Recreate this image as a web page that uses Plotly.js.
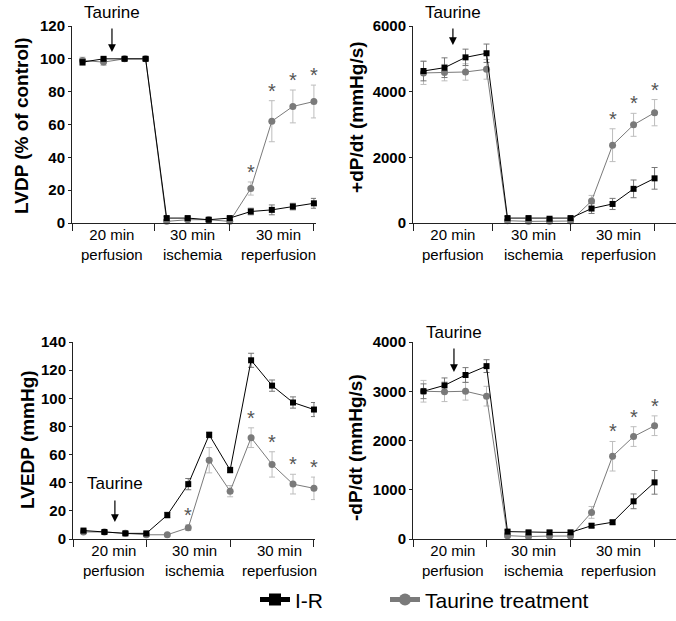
<!DOCTYPE html>
<html>
<head>
<meta charset="utf-8">
<script src="https://cdn.plot.ly/plotly-3.0.1.min.js"></script>
<style>html,body{margin:0;padding:0;background:#fff;}#chart{width:676px;height:621px;}</style>
</head>
<body>
<div id="chart"></div>
<script>
// ---- data ----
const timepoints = [0,1,2,3,4,5,6,7,8,9,10,11];
const phaseLabels = ["20 min<br>perfusion","30 min<br>ischemia","30 min<br>reperfusion"];
const seriesNames = ["I-R","Taurine treatment"];

const lvdpIR     = [98,100,100,100,3,3,2,3,7,8,10,12];
const lvdpIRErr  = [2,1,1,1,1,1,1,1,2,3,2,3];
const lvdpTau    = [99,98,100,100,1,2,2,1,21,62,71,74];
const lvdpTauErr = [2,2,1,1,1,1,1,1,4,12.5,10,10];
const lvdpStars  = [8,9,10,11];

const posIR     = [4630,4730,5045,5170,150,150,130,150,440,580,1040,1360];
const posIRErr  = [300,300,250,280,50,40,40,40,150,170,270,330];
const posTau    = [4570,4580,4600,4680,70,50,50,60,670,2370,2990,3360];
const posTauErr = [350,250,250,300,30,30,30,30,170,500,350,400];
const posStars  = [9,10,11];

const lvedpIR     = [6,5,4,4,17,39,74,49,127,109,97,92];
const lvedpIRErr  = [1,1,1,1,2,4,2,2,5,4,4,5];
const lvedpTau    = [5,5,4,3,3,8,56,34,72,53,39,36];
const lvedpTauErr = [1,1,1,1,1,2,9,4,7,9,7,8];
const lvedpStars  = [5,8,9,10,11];

const negIR     = [3000,3120,3330,3510,150,135,135,135,270,340,765,1150];
const negIRErr  = [150,150,150,130,30,30,30,30,40,40,150,240];
const negTau    = [3000,2990,3000,2900,68,50,60,60,540,1680,2080,2300];
const negTauErr = [220,200,180,200,30,30,30,30,120,300,200,200];
const negStars  = [9,10,11];

// ---- styling ----
const FONT = "Liberation Sans, Arial, sans-serif";
const GRAY = "#7a7a7a";

const panels = [
  {xa:"x", ya:"y", ir:lvdpIR, irE:lvdpIRErr, tau:lvdpTau, tauE:lvdpTauErr, stars:lvdpStars,
   title:"LVDP (% of control)", tx:0.031, ty:0.7987,
   xdom:[72/676,316/676], ydom:[1-223/621,1-26/621], xr:[-0.5,11.1], yr:[0,120], dt:20,
   bounds:[-0.5,3.4,7,11], labX:[1.4,5.25,9.3],
   taur:{x:1.4, tdom:1.066, ay:104.1, alen:25}},
  {xa:"x2", ya:"y2", ir:posIR, irE:posIRErr, tau:posTau, tauE:posTauErr, stars:posStars,
   title:"+dP/dt (mmHg/s)", tx:0.528, ty:0.8116,
   xdom:[413/676,1], ydom:[1-223/621,1-26/621], xr:[-0.5,12.02], yr:[0,6000], dt:2000,
   bounds:[-0.5,3.3,7,11], labX:[1.4,5.25,9.3],
   taur:{x:1.4, tdom:1.071, ay:5421, alen:18}},
  {xa:"x3", ya:"y3", ir:lvedpIR, irE:lvedpIRErr, tau:lvedpTau, tauE:lvedpTauErr, stars:lvedpStars,
   title:"LVEDP (mmHg)", tx:0.0414, ty:0.2931,
   xdom:[73/676,315/676], ydom:[1-539/621,1-342/621], xr:[-0.5,11.05], yr:[0,140], dt:20,
   bounds:[-0.5,3,7,11], labX:[1.45,5.3,9.35],
   taur:{x:1.5, tdom:0.284, ay:12.1, alen:23}},
  {xa:"x4", ya:"y4", ir:negIR, irE:negIRErr, tau:negTau, tauE:negTauErr, stars:negStars,
   title:"-dP/dt (mmHg/s)", tx:0.5266, ty:0.2802,
   xdom:[413/676,1], ydom:[1-539/621,1-342/621], xr:[-0.5,12.02], yr:[0,4000], dt:1000,
   bounds:[-0.5,3,7,11], labX:[1.4,5.25,9.3],
   taur:{x:1.45, tdom:1.0457, ay:3391, alen:25}}
];

const data = [];
const annotations = [];
const legendStyle = {orientation:"h", xanchor:"left", y:0.034, yanchor:"middle",
  font:{size:21, family:FONT, color:"#000"}, bgcolor:"rgba(0,0,0,0)", itemsizing:"constant"};
const layout = {
  width:676, height:621,
  margin:{l:0,r:0,t:0,b:0},
  paper_bgcolor:"#fff", plot_bgcolor:"rgba(0,0,0,0)",
  font:{family:FONT, color:"#000"},
  showlegend:true,
  legend:Object.assign({x:255/676}, legendStyle),
  legend2:Object.assign({x:385/676}, legendStyle),
  annotations:annotations
};

panels.forEach((p,i)=>{
  const sfx = i===0 ? "" : String(i+1);
  data.push({
    x:timepoints, y:p.tau, xaxis:p.xa, yaxis:p.ya, type:"scatter", mode:"lines+markers",
    name:seriesNames[1], showlegend:i===0, legend:"legend2",
    line:{color:GRAY, width:1}, marker:{symbol:"circle", size:7, color:GRAY},
    error_y:{type:"data", array:p.tauE, visible:true, color:"#bdbdbd", thickness:1, width:3},
    cliponaxis:false
  });
  data.push({
    x:timepoints, y:p.ir, xaxis:p.xa, yaxis:p.ya, type:"scatter", mode:"lines+markers",
    name:seriesNames[0], showlegend:i===0, legend:"legend",
    line:{color:"#000", width:1}, marker:{symbol:"square", size:6, color:"#000"},
    error_y:{type:"data", array:p.irE, visible:true, color:"#777", thickness:1, width:3},
    cliponaxis:false
  });
  layout["xaxis"+sfx] = {
    domain:p.xdom, range:p.xr, anchor:"y"+sfx, showgrid:false, zeroline:false,
    showline:true, linecolor:"#222", linewidth:1,
    tickmode:"array", tickvals:p.bounds, ticks:"outside", ticklen:7, tickcolor:"#222",
    showticklabels:false, fixedrange:true
  };
  layout["yaxis"+sfx] = {
    domain:p.ydom, range:p.yr, anchor:"x"+sfx, showgrid:false, zeroline:false,
    showline:true, linecolor:"#222", linewidth:1, ticks:"outside", ticklen:3, tickcolor:"#222",
    dtick:p.dt, tick0:0, tickfont:{size:15, family:FONT, weight:"bold", color:"#000"},
    fixedrange:true
  };
  // y-axis title
  annotations.push({xref:"paper", yref:"paper", x:p.tx, y:p.ty, text:p.title, textangle:-90,
    showarrow:false, font:{size:19, family:FONT, weight:"bold", color:"#000"},
    xanchor:"center", yanchor:"middle"});
  // phase labels
  phaseLabels.forEach((t,k)=>{
    annotations.push({xref:p.xa, yref:p.ya+" domain", x:p.labX[k], y:0, yanchor:"top", yshift:-1,
      text:t, showarrow:false, font:{size:15, family:FONT, color:"#000"}});
  });
  // Taurine label + arrow
  annotations.push({xref:p.xa, yref:p.ya+" domain", x:p.taur.x, y:p.taur.tdom, text:"Taurine",
    showarrow:false, font:{size:17, family:FONT, color:"#000"}, xanchor:"center", yanchor:"middle"});
  annotations.push({xref:p.xa, yref:p.ya, x:p.taur.x, y:p.taur.ay, text:"", showarrow:true,
    ax:0, ay:-p.taur.alen, arrowhead:2, arrowsize:1.3, arrowwidth:1.2, arrowcolor:"#000"});
  // significance stars
  p.stars.forEach(k=>{
    annotations.push({xref:p.xa, yref:p.ya, x:timepoints[k], y:p.tau[k]+p.tauE[k], text:"*",
      showarrow:false, yanchor:"bottom", yshift:-3, font:{size:20, family:FONT, color:"#555"}});
  });
});

Plotly.newPlot("chart", data, layout, {staticPlot:true, displayModeBar:false});
</script>
</body>
</html>
